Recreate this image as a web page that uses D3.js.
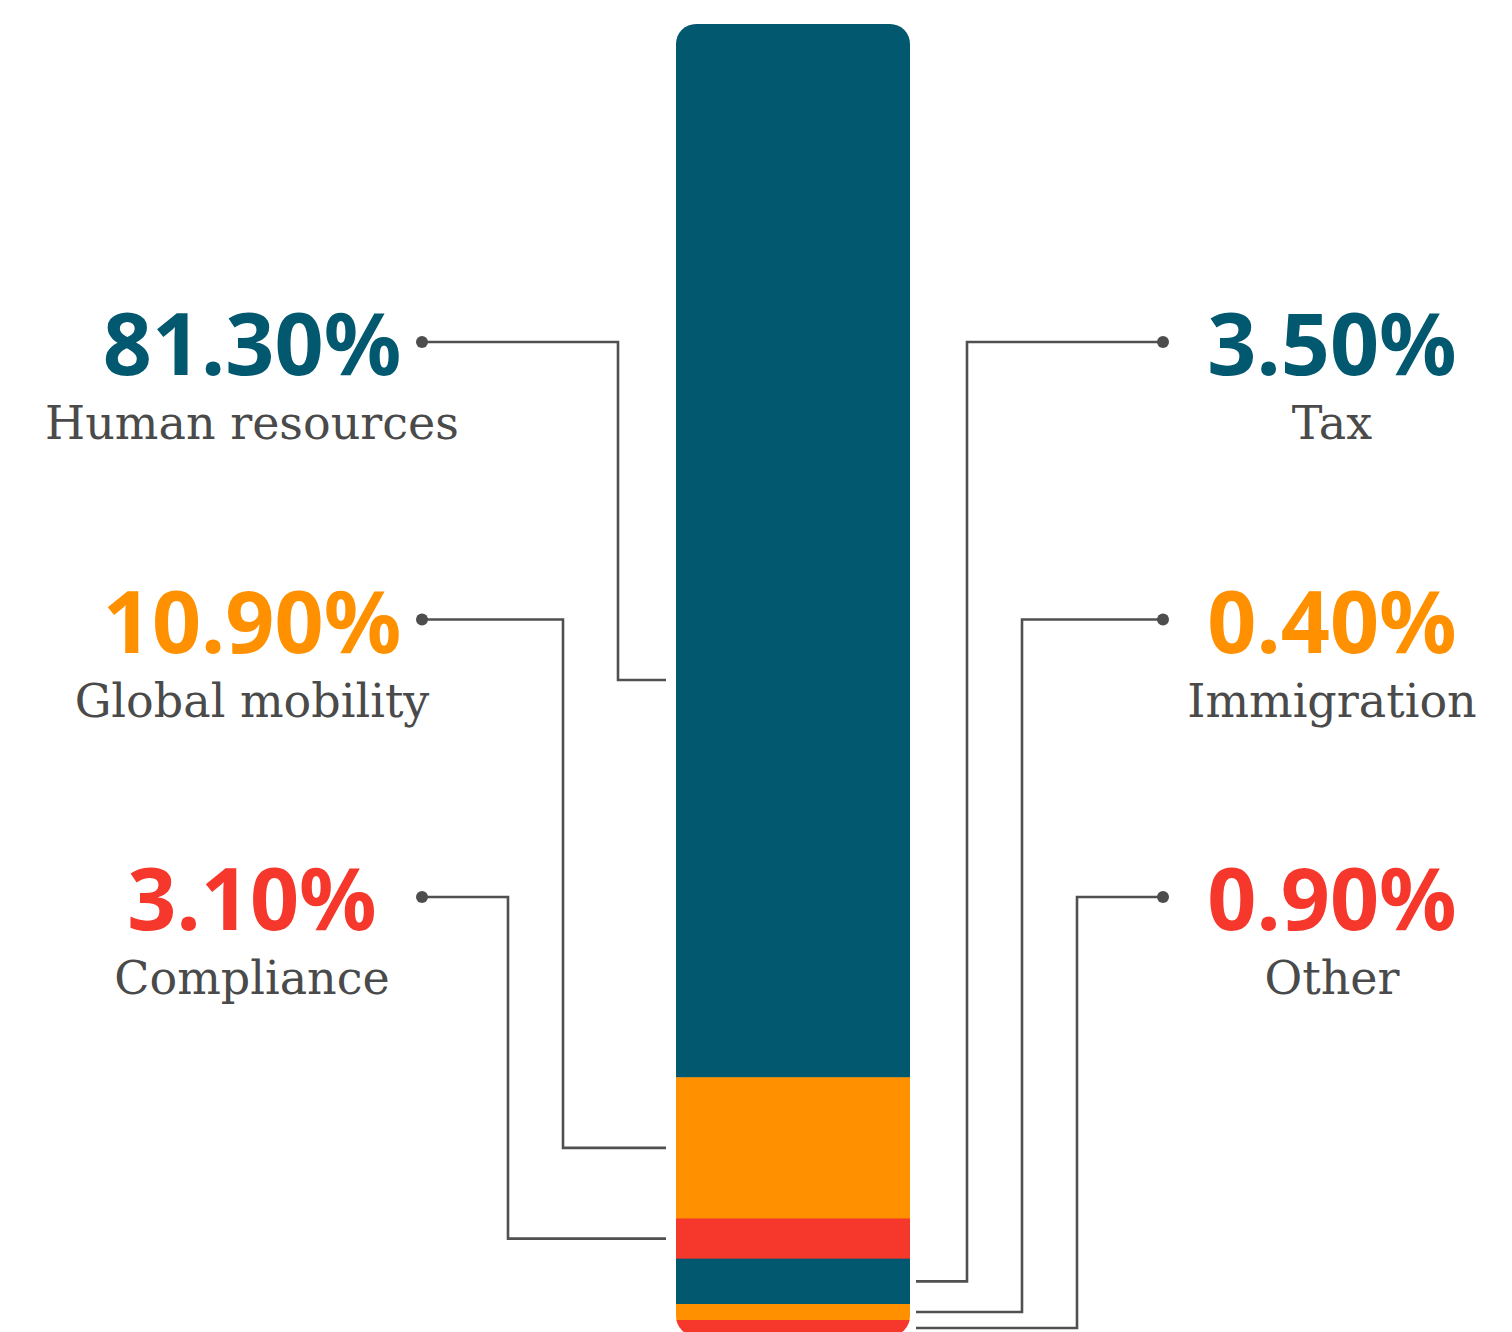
<!doctype html>
<html>
  <head>
    <meta charset="utf-8">
    <title>Stacked share bar</title>
    <script src="https://cdnjs.cloudflare.com/ajax/libs/d3/7.8.5/d3.min.js"></script>
    <style>
      body { margin: 0; background: #fff; }
      .num { font-family: "Noto Sans", sans-serif; font-weight: 700; font-size: 86px; }
      .lbl { font-family: "DejaVu Serif", serif; font-size: 46px; fill: #4a4a4a; }
    </style>
  </head>
  <body>
    <div id="chart"></div>
    <script>
      // data
      const categories = ["Human resources", "Global mobility", "Compliance", "Tax", "Immigration", "Other"];
      const values = [81.3, 10.9, 3.1, 3.5, 0.4, 0.9];
      const valueLabels = ["81.30%", "10.90%", "3.10%", "3.50%", "0.40%", "0.90%"];
      const sides = ["left", "left", "left", "right", "right", "right"];
      const colors = ["#02586f", "#ff9000", "#f5372c", "#02586f", "#ff9000", "#f5372c"];

      const W = 1512, H = 1332;
      const barX0 = 676, barX1 = 910, barTop = 24, barBottom = 1336;
      const minH = 16;

      const svg = d3.select("#chart").append("svg")
        .attr("width", W)
        .attr("height", H);

      // heights: tiny shares get a minimum height, the rest is linear
      const isSmall = values.map(v => v / d3.sum(values) * (barBottom - barTop) < minH);
      const bigSum = d3.sum(values.filter((v, i) => !isSmall[i]));
      const nSmall = isSmall.filter(s => s).length;
      const h = d3.scaleLinear().domain([0, bigSum]).range([0, barBottom - barTop - nSmall * minH]);

      let acc = barTop;
      const segs = values.map((v, i) => {
        const hh = isSmall[i] ? minH : h(v);
        const s = { i: i, y0: acc, y1: acc + hh };
        acc += hh;
        return s;
      });

      // the bar, rounded via clip
      svg.append("clipPath").attr("id", "barclip")
        .append("rect")
        .attr("x", barX0).attr("y", barTop)
        .attr("width", barX1 - barX0).attr("height", barBottom - barTop)
        .attr("rx", 20).attr("ry", 20);

      svg.append("g").attr("clip-path", "url(#barclip)")
        .selectAll("rect")
        .data(segs)
        .join("rect")
        .attr("x", barX0)
        .attr("y", d => d.y0)
        .attr("width", barX1 - barX0)
        .attr("height", d => d.y1 - d.y0 + 0.5)
        .attr("fill", d => colors[d.i]);

      // label rows
      const rowY = d3.scaleLinear().domain([0, 2]).range([342, 897]);
      const barMid = (barTop + barBottom) / 2;

      const items = categories.map((c, i) => {
        const left = sides[i] === "left";
        const j = left ? i : i - 3;
        const seg = segs[i];
        const anchorY = Math.max((seg.y0 + seg.y1) / 2, j === 0 && left ? barMid : 0);
        return {
          name: c, label: valueLabels[i], color: colors[i], left: left, j: j,
          dotX: left ? 422 : 1163,
          textX: left ? 252 : 1332,
          y: rowY(j),
          elbowX: left ? barX0 - 58 - 55 * j : barX1 + 57 + 55 * j,
          endX: left ? barX0 - 10 : barX1 + 6,
          anchorY: anchorY
        };
      });

      const g = svg.append("g");

      g.selectAll("path.leader")
        .data(items)
        .join("path")
        .attr("class", "leader")
        .attr("fill", "none")
        .attr("stroke", "#505050")
        .attr("stroke-width", 2.6)
        .attr("d", d => {
          const p = d3.path();
          p.moveTo(d.dotX, d.y);
          p.lineTo(d.elbowX, d.y);
          p.lineTo(d.elbowX, d.anchorY);
          p.lineTo(d.endX, d.anchorY);
          return p.toString();
        });

      g.selectAll("circle")
        .data(items)
        .join("circle")
        .attr("cx", d => d.dotX)
        .attr("cy", d => d.y)
        .attr("r", 6)
        .attr("fill", "#4d4d4d");

      g.selectAll("text.num")
        .data(items)
        .join("text")
        .attr("class", "num")
        .attr("x", d => d.textX)
        .attr("y", d => d.y + 33)
        .attr("text-anchor", "middle")
        .attr("fill", d => d.color)
        .text(d => d.label);

      g.selectAll("text.lbl")
        .data(items)
        .join("text")
        .attr("class", "lbl")
        .attr("x", d => d.textX)
        .attr("y", d => d.y + 97)
        .attr("text-anchor", "middle")
        .text(d => d.name);
    </script>
  </body>
</html>
